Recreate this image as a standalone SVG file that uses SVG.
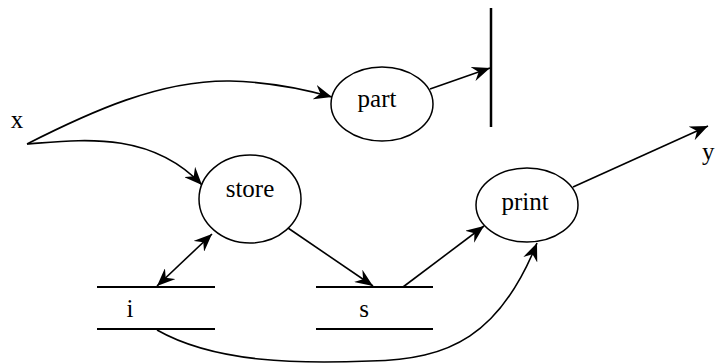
<svg xmlns="http://www.w3.org/2000/svg" width="715" height="363" viewBox="0 0 715 363">
<style>
  .node ellipse { fill: #fff; stroke: #000; stroke-width: 1.5; }
  .lbl { font-family: "Liberation Serif", "Times New Roman", serif; font-size: 25px; fill: #000; }
  .conn path, .conn line { fill: none; stroke: #000; stroke-width: 1.6; }
  .store line { stroke: #000; stroke-width: 2; }
</style>
<defs>
  <marker id="ah" markerUnits="userSpaceOnUse" markerWidth="19" markerHeight="15" refX="18" refY="7.5" orient="auto-start-reverse" viewBox="0 0 19 15">
    <path d="M0,0 L18,7.5 L0,15 L6,7.5 z" fill="#000"/>
  </marker>
</defs>
<rect width="715" height="363" fill="#fff"/>

<g id="conn" class="conn">
  <path d="M27,144 C90,112 160,80 230,81 C270,82 300,88 332,97" marker-end="url(#ah)"/>
  <path d="M27,144 C80,140 150,130 202,185" marker-end="url(#ah)"/>
  <line x1="430" y1="89" x2="490" y2="68" marker-end="url(#ah)"/>
  <line x1="573" y1="187" x2="708" y2="126" marker-end="url(#ah)"/>
  <line x1="157" y1="286" x2="212" y2="234" marker-start="url(#ah)" marker-end="url(#ah)"/>
  <line x1="288" y1="228" x2="373" y2="286" marker-end="url(#ah)"/>
  <line x1="403" y1="287" x2="484" y2="226" marker-end="url(#ah)"/>
  <path d="M157,330 C215,363 300,364 370,361 C450,360 500,335 537,243" marker-end="url(#ah)"/>
</g>

<g id="x"><text class="lbl" x="17" y="128" text-anchor="middle">x</text></g>
<g id="y"><text class="lbl" x="702" y="160">y</text></g>

<g id="part" class="node">
  <ellipse cx="382" cy="104" rx="51" ry="37"/>
  <text class="lbl" x="377" y="107" text-anchor="middle">part</text>
</g>

<g id="sink">
  <line x1="491" y1="8" x2="491" y2="127" stroke="#000" stroke-width="2.5"/>
</g>

<g id="store" class="node">
  <ellipse cx="250" cy="199" rx="51" ry="44"/>
  <text class="lbl" x="250" y="197" text-anchor="middle">store</text>
</g>

<g id="print" class="node">
  <ellipse cx="527" cy="205" rx="51" ry="37"/>
  <text class="lbl" x="525" y="210" text-anchor="middle">print</text>
</g>

<g id="i" class="store">
  <line x1="97" y1="287" x2="215" y2="287"/>
  <line x1="97" y1="329" x2="215" y2="329"/>
  <text class="lbl" x="130" y="317" text-anchor="middle">i</text>
</g>

<g id="s" class="store">
  <line x1="316" y1="287" x2="433" y2="287"/>
  <line x1="316" y1="329" x2="433" y2="329"/>
  <text class="lbl" x="364" y="317" text-anchor="middle">s</text>
</g>
</svg>
